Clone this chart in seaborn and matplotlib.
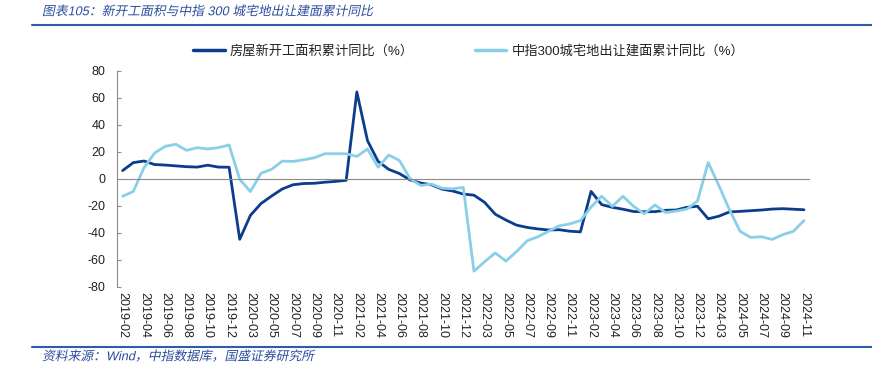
import numpy as np
import pandas as pd
import matplotlib
matplotlib.use("Agg")
import matplotlib.pyplot as plt
import seaborn as sns
from matplotlib.lines import Line2D
from matplotlib.patheffects import AbstractPathEffect
from matplotlib.transforms import Affine2D

# monthly categories (no January data), 2019-02 .. 2024-11
months = [f"{y}-{m:02d}" for y in range(2019, 2025) for m in range(2, 13)][:65]

# 房屋新开工面积累计同比 (%)
new_starts = [
    6.0, 11.9, 13.1, 10.5, 10.1, 9.5, 8.9, 8.6, 10.0, 8.6, 8.5,
    -44.9, -27.2, -18.4, -12.8, -7.6, -4.5, -3.6, -3.4, -2.6, -2.0, -1.2,
    64.3, 28.2, 12.8, 6.9, 3.8, -0.9, -3.2, -4.5, -7.7, -9.1, -11.4,
    -12.2, -17.5, -26.3, -30.6, -34.4, -36.1, -37.2, -38.0, -37.8, -38.9, -39.4,
    -9.4, -19.2, -21.2, -22.6, -24.3, -24.5, -24.4, -23.4, -23.2, -21.2, -20.4,
    -29.7, -27.8, -24.6, -24.2, -23.7, -23.2, -22.5, -22.2, -22.6, -23.0,
]

# 中指300城宅地出让建面累计同比 (%)
land_300 = [
    -13.0, -9.5, 8.0, 19.0, 24.0, 25.5, 21.0, 23.0, 22.0, 23.0, 25.0,
    -0.5, -9.5, 4.0, 7.0, 13.0, 12.8, 14.0, 15.5, 18.5, 18.5, 18.5,
    16.5, 22.0, 8.5, 17.5, 13.5, 0.0, -5.0, -4.0, -7.0, -7.5, -6.5,
    -68.5, -61.5, -55.0, -61.0, -54.0, -46.0, -43.0, -39.0, -35.0, -33.5, -31.0,
    -21.0, -13.0, -20.5, -13.0, -20.5, -26.0, -19.5, -25.0, -24.0, -22.5, -16.5,
    12.0, -5.0, -23.0, -39.0, -43.5, -43.0, -45.0, -41.5, -39.0, -31.0,
]

name_a = "房屋新开工面积累计同比（%）"
name_b = "中指300城宅地出让建面累计同比（%）"
colors = {name_a: "#0B3D8C", name_b: "#8ACFE8"}

n = len(months)
df = pd.DataFrame({
    "idx": list(range(n)) * 2,
    "value": new_starts + land_300,
    "series": [name_a] * n + [name_b] * n,
})


class Slant(AbstractPathEffect):
    # fake italic for CJK fonts that have no italic face
    def __init__(self, deg=12):
        super().__init__()
        self.deg = deg

    def draw_path(self, renderer, gc, tpath, affine, rgbFace=None):
        renderer.draw_path(gc, tpath, Affine2D().skew_deg(self.deg, 0) + affine, rgbFace)


sns.set_style("white")
plt.rcParams["font.family"] = ["Liberation Sans", "Noto Sans CJK SC"]
plt.rcParams["axes.unicode_minus"] = False

W, H = 872, 368
fig = plt.figure(figsize=(W / 100, H / 100), dpi=100)
ax = fig.add_axes([117.3 / W, 1 - 286.7 / H, 692 / W, 216 / H])

sns.lineplot(data=df, x="idx", y="value", hue="series", hue_order=[name_a, name_b],
             palette=colors, linewidth=2.0, ax=ax, legend=False)

ax.set_xlim(-0.5, n - 0.5)
ax.set_ylim(-80, 80)
ax.set_yticks(range(-80, 81, 20))
ax.set_xlabel("")
ax.set_ylabel("")

grey = "#8C8C8C"
for s in ["top", "right"]:
    ax.spines[s].set_visible(False)
ax.spines["left"].set_color(grey)
ax.spines["left"].set_linewidth(0.8)
ax.spines["bottom"].set_position(("data", 0))
ax.spines["bottom"].set_color(grey)
ax.spines["bottom"].set_linewidth(0.8)

ax.set_xticks(np.arange(-0.5, n, 1))
ax.tick_params(axis="x", direction="in", length=3, width=0.8, color=grey, labelbottom=False)
ax.tick_params(axis="y", direction="in", length=3, width=0.8, color=grey, labelsize=9,
               labelcolor="#222222", pad=8.5, left=True)

sec = ax.secondary_xaxis("bottom")
sec.set_xticks(range(0, n, 2), labels=months[::2], rotation=-90, fontsize=9, color="#222222")
sec.tick_params(length=0, pad=4)
sec.spines["bottom"].set_visible(False)

handles = [Line2D([], [], color=colors[name_a], lw=2.5),
           Line2D([], [], color=colors[name_b], lw=2.5)]
fig.legend(handles, [name_a, name_b], loc="center left",
           bbox_to_anchor=(193 / W, 1 - 51 / H), ncol=2, frameon=False,
           fontsize=9.5, handlelength=2.4, handletextpad=0.4, columnspacing=4.6,
           borderpad=0, borderaxespad=0, labelcolor="#222222")

blue = "#2F5CA8"
fig.text(42 / W, 1 - 12 / H, "图表105：新开工面积与中指 300 城宅地出让建面累计同比",
         color="#2B4D9C", fontsize=9.2, va="center", path_effects=[Slant(12)])
fig.add_artist(Line2D([32 / W, 1], [1 - 24.5 / H] * 2, color=blue, lw=1.5,
                      transform=fig.transFigure))
fig.add_artist(Line2D([32 / W, 1], [1 - 346.5 / H] * 2, color=blue, lw=1.5,
                      transform=fig.transFigure))
fig.text(42 / W, 1 - 357 / H, "资料来源：Wind，中指数据库，国盛证券研究所",
         color="#2B4D9C", fontsize=9.2, va="center", path_effects=[Slant(12)])

fig.savefig("out.png", dpi=100)
